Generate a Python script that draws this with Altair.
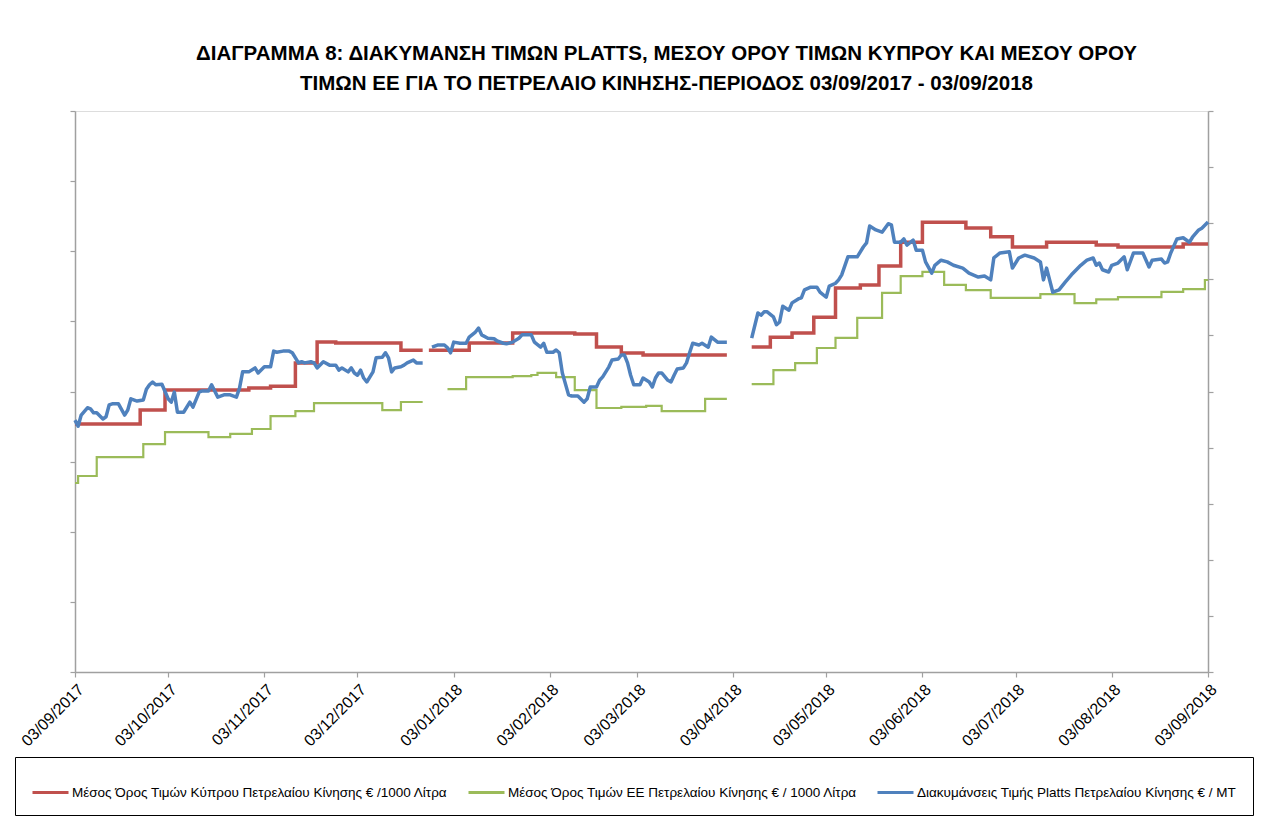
import altair as alt
import pandas as pd

START = pd.Timestamp("2017-09-03")

NAMES = [
    "Μέσος Όρος Τιμών Κύπρου Πετρελαίου Κίνησης  € /1000 Λίτρα",
    "Μέσος Όρος Τιμών ΕΕ Πετρελαίου Κίνησης  € / 1000 Λίτρα",
    "Διακυμάνσεις Τιμής Platts Πετρελαίου Κίνησης € / MT",
]
COLORS = ["#C0504D", "#9BBB59", "#4F81BD"]

# day offsets from 03/09/2017, one list per continuous segment
RED_DAYS = [
    [0, 21, 29, 56, 63, 71, 78, 84, 105, 112],
    [114, 127, 141, 161, 168, 176, 183, 210],
    [218, 224, 231, 238, 245, 253, 259, 266, 273, 287, 295, 302, 313, 329, 336, 357, 365],
]
RED_VALS = [
    [707, 747, 804, 810, 815, 881, 941, 938, 918, 918],
    [918, 938, 967, 964, 927, 910, 904, 904],
    [927, 955, 967, 1012, 1095, 1104, 1158, 1226, 1283, 1266, 1241, 1212, 1226, 1218, 1212, 1221, 1221],
]

GREEN_DAYS = [
    [0, 1, 7, 22, 29, 43, 50, 57, 63, 71, 77, 99, 105, 112],
    [120, 126, 141, 147, 149, 155, 161, 168, 176, 184, 189, 203, 210],
    [218, 225, 232, 239, 245, 252, 260, 266, 273, 280, 287, 295, 311, 322, 329, 336, 350, 357, 364, 365],
]
GREEN_VALS = [
    [539, 559, 613, 650, 684, 670, 679, 693, 730, 744, 767, 747, 770, 770],
    [807, 841, 844, 847, 853, 841, 804, 753, 756, 759, 744, 779, 779],
    [821, 861, 881, 924, 953, 1010, 1081, 1129, 1141, 1104, 1089, 1067, 1078, 1052, 1063, 1069, 1084, 1092, 1118, 1118],
]

BLUE_DAYS = [
    [0, 1, 2, 4, 5, 6, 7, 9, 10, 11, 12, 14, 16, 17, 18, 20, 22, 23, 24, 25,
     26, 28, 30, 31, 32, 33, 35, 37, 38, 40, 41, 43, 44, 46, 48, 50, 52, 53, 54, 56,
     58, 59, 61, 63, 64, 65, 67, 69, 70, 72, 73, 74, 76, 77, 78, 80, 82, 84, 85, 86,
     88, 89, 90, 91, 92, 93, 94, 96, 97, 99, 100, 101, 102, 103, 105, 106, 107, 109, 110, 112],
    [115, 117, 119, 120, 121, 122, 124, 126, 127, 129, 130, 131, 133, 135, 136, 138, 139, 141, 143, 144,
     147, 148, 150, 151, 152, 154, 155, 156, 157, 159, 160, 162, 164, 165, 166, 168, 169, 170, 172, 173,
     175, 176, 177, 178, 179, 180, 182, 183, 185, 186, 187, 188, 189, 191, 192, 193, 194, 196, 197, 198,
     199, 201, 202, 204, 205, 207, 208, 210],
    [218, 220, 221, 222, 223, 225, 226, 227, 228, 230, 231, 233, 234, 235, 237, 239, 240, 242, 243, 245,
     246, 247, 249, 250, 252, 254, 255, 256, 258, 260, 262, 263, 264, 266, 267, 268, 270, 271, 273, 274,
     276, 277, 279, 281, 283, 286, 288, 291, 293, 295, 296, 298, 301, 302, 304, 306, 309, 311, 312, 313,
     315, 317, 319, 321, 324, 326, 328, 329, 330, 331, 333, 334, 336, 338, 339, 341, 342, 344, 346, 347,
     350, 351, 352, 353, 355, 357, 359, 360, 362, 363, 365],
]
BLUE_VALS = [
    [449, 438, 458, 471, 469, 462, 462, 451, 455, 476, 478, 478, 458, 467, 487, 483, 485, 504, 512, 517,
     512, 513, 487, 481, 499, 463, 463, 481, 472, 499, 501, 501, 512, 490, 494, 494, 490, 506, 535, 535,
     542, 533, 544, 544, 572, 570, 572, 572, 569, 551, 553, 551, 553, 551, 542, 553, 547, 547, 538, 542,
     535, 542, 533, 529, 538, 524, 517, 535, 560, 561, 569, 560, 535, 542, 544, 547, 551, 556, 551, 551],
    [579, 583, 583, 578, 569, 588, 586, 586, 597, 606, 613, 601, 595, 594, 590, 586, 585, 588, 595, 601,
     601, 588, 579, 586, 570, 570, 574, 569, 533, 494, 492, 492, 481, 487, 508, 508, 520, 526, 544, 556,
     558, 565, 565, 551, 529, 512, 512, 524, 517, 508, 524, 533, 533, 520, 517, 529, 540, 542, 551, 569,
     586, 583, 586, 579, 597, 588, 588, 588],
    [595, 640, 636, 642, 642, 633, 619, 624, 652, 645, 658, 665, 667, 681, 686, 686, 677, 668, 688, 693,
     699, 708, 740, 740, 740, 758, 765, 795, 788, 784, 799, 797, 766, 766, 772, 761, 770, 752, 752, 731,
     711, 725, 734, 731, 725, 720, 711, 704, 706, 699, 738, 747, 749, 720, 738, 743, 738, 731, 699, 720,
     677, 681, 695, 708, 725, 734, 738, 725, 729, 717, 713, 725, 729, 740, 717, 747, 747, 747, 722, 734,
     736, 729, 731, 747, 772, 774, 766, 775, 788, 791, 802],
]

LEFT_TICKS = [0, 200, 400, 600, 800, 1000, 1200, 1400, 1600]
RIGHT_TICKS = [0, 100, 200, 300, 400, 500, 600, 700, 800, 900, 1000]
MONTHS = [(2017, m) for m in range(9, 13)] + [(2018, m) for m in range(1, 10)]

TITLE = [
    "ΔΙΑΓΡΑΜΜΑ 8: ΔΙΑΚΥΜΑΝΣΗ ΤΙΜΩΝ PLATTS, ΜΕΣΟΥ ΟΡΟΥ ΤΙΜΩΝ ΚΥΠΡΟΥ ΚΑΙ ΜΕΣΟΥ ΟΡΟΥ",
    "ΤΙΜΩΝ ΕΕ ΓΙΑ ΤΟ ΠΕΤΡΕΛΑΙΟ ΚΙΝΗΣΗΣ-ΠΕΡΙΟΔΟΣ  03/09/2017 - 03/09/2018",
]


def build(name, days_list, vals_list):
    rows = []
    for s, (days, vals) in enumerate(zip(days_list, vals_list)):
        for d, v in zip(days, vals):
            rows.append({"date": (START + pd.Timedelta(days=d)).strftime("%Y-%m-%d"),
                         "value": v, "series": name, "seg": s})
    return pd.DataFrame(rows)


red_df = build(NAMES[0], RED_DAYS, RED_VALS)
green_df = build(NAMES[1], GREEN_DAYS, GREEN_VALS)
blue_df = build(NAMES[2], BLUE_DAYS, BLUE_VALS)

AXIS_GREY = "#A0A0A0"

x_enc = alt.X(
    "date:T",
    scale=alt.Scale(domain=[alt.DateTime(year=2017, month=9, date=3),
                            alt.DateTime(year=2018, month=9, date=3)], nice=False),
    axis=alt.Axis(
        values=[alt.DateTime(year=y, month=m, date=3) for y, m in MONTHS],
        format="%d/%m/%Y", labelAngle=-45, labelAlign="right", labelBaseline="top",
        labelFontSize=16, labelFont="Liberation Sans", labelColor="black",
        labelPadding=4, labelFlush=False, labelOverlap=False,
        title=None, grid=False, domainColor=AXIS_GREY, domainWidth=1.5,
        tickColor=AXIS_GREY, tickSize=5, tickWidth=1.2,
    ),
)

color_enc = alt.Color(
    "series:N",
    scale=alt.Scale(domain=NAMES, range=COLORS),
    legend=alt.Legend(
        orient="none", legendX=-60, legendY=646, direction="horizontal",
        title=None, symbolType="stroke", symbolSize=1296, symbolStrokeWidth=3,
        labelFontSize=13.5, labelFont="Liberation Sans", labelColor="black",
        labelLimit=600, columnPadding=10, padding=16, labelOffset=2,
        strokeColor="black", fillColor="white",
    ),
)

left_axis = alt.Axis(
    orient="left", labels=False, values=LEFT_TICKS, title=None, grid=False,
    domainColor=AXIS_GREY, domainWidth=1.5, tickColor=AXIS_GREY, tickSize=5, tickWidth=1.2,
)
right_axis = alt.Axis(
    orient="right", labels=False, values=RIGHT_TICKS, title=None, grid=False,
    domainColor=AXIS_GREY, domainWidth=1.5, tickColor=AXIS_GREY, tickSize=5, tickWidth=1.2,
)

left_scale = alt.Scale(domain=[0, 1600], nice=False, zero=True)
right_scale = alt.Scale(domain=[0, 1000], nice=False, zero=True)

green = alt.Chart(green_df).mark_line(interpolate="step-after", strokeWidth=2.2).encode(
    x=x_enc, y=alt.Y("value:Q", scale=left_scale, axis=left_axis),
    color=color_enc, detail="seg:N",
)
red = alt.Chart(red_df).mark_line(interpolate="step-after", strokeWidth=3.5).encode(
    x=x_enc, y=alt.Y("value:Q", scale=left_scale, axis=left_axis),
    color=color_enc, detail="seg:N",
)
blue = alt.Chart(blue_df).mark_line(strokeWidth=3.5, strokeJoin="round").encode(
    x=x_enc, y=alt.Y("value:Q", scale=right_scale, axis=right_axis),
    color=color_enc, detail="seg:N",
)

left_layer = alt.layer(green, red)

chart = alt.layer(left_layer, blue).resolve_scale(y="independent").properties(
    width=1133, height=561,
    autosize=alt.AutoSizeParams(type="none"),
    padding={"left": 67, "top": 103, "right": 56, "bottom": 146},
    title=alt.TitleParams(
        text=TITLE, fontSize=20.5, fontWeight="bold",
        font="Liberation Sans", color="black",
        lineHeight=30, anchor="middle", dx=25, offset=16,
    ),
).configure_view(stroke=None).configure(background="white")

chart.save("out.html", embed_options={"renderer": "svg", "actions": False})
